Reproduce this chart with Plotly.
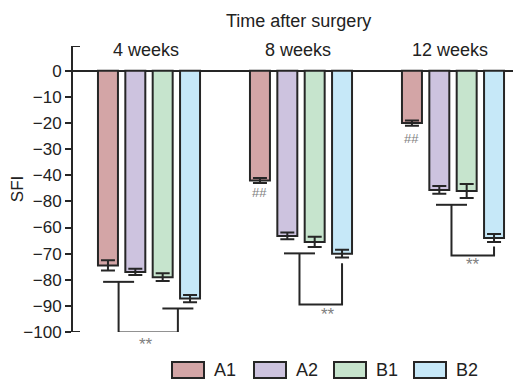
import plotly.graph_objects as go

# ---- data ----
groups = ["4 weeks", "8 weeks", "12 weeks"]
group_x = [0, 1, 2]
series = ["A1", "A2", "B1", "B2"]
colors = ["#d3a5a6", "#cdc3df", "#c6e4cd", "#c6e8f8"]
values = {
    "A1": [-74.5, -42.0, -20.0],
    "A2": [-77.0, -63.2, -45.6],
    "B1": [-79.0, -65.5, -46.0],
    "B2": [-87.2, -70.0, -64.0],
}
errors = {
    "A1": [2.0, 1.0, 1.0],
    "A2": [1.2, 1.3, 1.5],
    "B1": [1.5, 2.0, 2.7],
    "B2": [1.4, 1.5, 1.5],
}
tick_vals = [0, -10, -20, -30, -40, -50, -60, -70, -80, -90, -100]
tick_text = ["0", "−10", "−20", "−30", "−40", "−80", "−60", "−70", "−80", "−90", "−100"]

# significance brackets (x offsets relative to group centre, in category units)
brk_left_x = [-0.20, -0.01, -0.01]
brk_left_y = [-80.8, -69.9, -51.3]
brk_left_cap = [True, True, True]
brk_right_x = [0.19, 0.27, 0.27]
brk_right_y = [-91.0, -73.7, -67.3]
brk_right_cap = [True, False, False]
brk_bottom_y = [-100.2, -89.5, -70.7]
star_x = [-0.02, 0.18, 0.13]
star_y = [-104.8, -93.3, -74.1]
hash_group = [1, 2]
hash_y = [-46.7, -26.0]

FONT = "Liberation Sans, Arial, sans-serif"
DARK = "#262626"
Y_MIN, Y_MAX = -100, 9.5

# page has an 8px body margin, so the figure is shifted by 8px
OFF = 8
W, H = 521 - OFF, 380 - OFF
PL, PT, PB = 73 - OFF, 46 - OFF, 332 - OFF  # plot area edges in figure px
PW = W - PL
PH = PB - PT


def px_x(x):  # reference x pixel -> paper
    return (x - OFF - PL) / PW


def px_y(y):  # reference y pixel -> paper
    return (PB - (y - OFF)) / PH


def val_to_paper(v):
    return (v - Y_MIN) / (Y_MAX - Y_MIN)


fig = go.Figure()
for s, c in zip(series, colors):
    fig.add_trace(go.Bar(
        x=group_x, y=values[s], name=s,
        marker=dict(color=c, line=dict(color=DARK, width=2)),
        error_y=dict(type="data", array=errors[s], symmetric=True,
                     color=DARK, thickness=2, width=7),
        showlegend=False,
    ))

cap = 0.102
for i, g in enumerate(group_x):
    xl = g + brk_left_x[i]
    xr = g + brk_right_x[i]
    if brk_left_cap[i]:
        fig.add_trace(go.Scatter(x=[xl - cap, xl + cap], y=[brk_left_y[i]] * 2,
                                 mode="lines", line=dict(color=DARK, width=2),
                                 showlegend=False, hoverinfo="skip", cliponaxis=False))
    if brk_right_cap[i]:
        fig.add_trace(go.Scatter(x=[xr - cap, xr + cap], y=[brk_right_y[i]] * 2,
                                 mode="lines", line=dict(color=DARK, width=2),
                                 showlegend=False, hoverinfo="skip", cliponaxis=False))
    fig.add_trace(go.Scatter(
        x=[xl, xl, xr, xr],
        y=[brk_left_y[i], brk_bottom_y[i], brk_bottom_y[i], brk_right_y[i]],
        mode="lines", line=dict(color=DARK, width=2),
        showlegend=False, hoverinfo="skip", cliponaxis=False))
    fig.add_annotation(x=g + star_x[i], y=val_to_paper(star_y[i]), yref="paper",
                       yanchor="middle", text="**", showarrow=False,
                       font=dict(family=FONT, size=17, color="#808080"))

for gi, yv in zip(hash_group, hash_y):
    fig.add_annotation(x=group_x[gi] - 0.27, y=yv, text="##", showarrow=False,
                       font=dict(family=FONT, size=13, color="#808080"))

# group labels
for g, lab in zip(group_x, groups):
    fig.add_annotation(x=g - 0.02, y=px_y(50), yref="paper", text=lab, showarrow=False,
                       font=dict(family=FONT, size=18, color="#222"), yanchor="middle")
fig.add_annotation(x=px_x(298.5), xref="paper", y=px_y(21), yref="paper",
                   text="Time after surgery", showarrow=False,
                   xanchor="center", yanchor="middle",
                   font=dict(family=FONT, size=18, color="#222"))

# axis end caps
for yv in [Y_MAX, Y_MIN]:
    fig.add_shape(type="line", xref="paper", yref="y", x0=0, x1=7 / PW, y0=yv, y1=yv,
                  line=dict(color=DARK, width=2))

# custom legend
box_x0 = [172, 254, 334, 414]
for s, c, bx in zip(series, colors, box_x0):
    fig.add_shape(type="rect", xref="paper", yref="paper",
                  x0=px_x(bx), x1=px_x(bx + 32),
                  y0=px_y(378), y1=px_y(362),
                  fillcolor=c, line=dict(color=DARK, width=2))
    fig.add_annotation(x=px_x(bx + 40), xref="paper", y=px_y(370), yref="paper",
                       text=s, showarrow=False, xanchor="left", yanchor="middle",
                       font=dict(family=FONT, size=18, color="#222"))

fig.update_layout(
    width=W, height=H,
    margin=dict(l=PL, r=0, t=PT, b=H - PB),
    paper_bgcolor="white", plot_bgcolor="white",
    barmode="group", bargap=0.28, bargroupgap=0.27,
    font=dict(family=FONT, size=17, color="#222"),
    xaxis=dict(range=[-0.5, -0.5 + PW / 152.0], showticklabels=False, showgrid=False,
               zeroline=False, showline=False, ticks=""),
    yaxis=dict(range=[Y_MIN, Y_MAX], tickvals=tick_vals, ticktext=tick_text,
               ticks="outside", ticklen=6, tickwidth=2, tickcolor=DARK,
               showline=True, linecolor=DARK, linewidth=2,
               showgrid=False, zeroline=True, zerolinecolor=DARK, zerolinewidth=2,
               title=dict(text="SFI", standoff=0, font=dict(size=17)),
               tickfont=dict(size=17)),
)

fig.write_html("out.html")
